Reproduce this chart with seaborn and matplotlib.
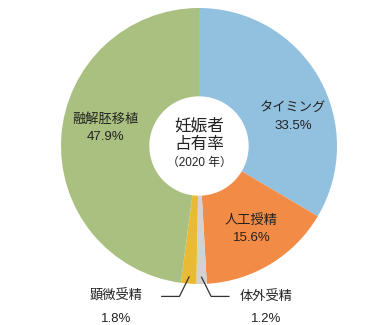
import matplotlib
matplotlib.use("Agg")
import matplotlib.pyplot as plt
import seaborn as sns
import numpy as np

categories = ["タイミング", "人工授精", "体外受精", "顕微受精", "融解胚移植"]
values = [33.5, 15.6, 1.2, 1.8, 47.9]
colors = ["#92C1DF", "#F28B45", "#D2D2D2", "#E9BB35", "#AAC080"]
center_title = "妊娠者\n占有率"
center_sub = "（2020 年）"

sns.set_theme(style="white")
plt.rcParams["font.family"] = ["Liberation Sans", "Noto Sans CJK JP", "DejaVu Sans"]

fig = plt.figure(figsize=(3.68, 3.25), dpi=100)
cx, cy, r = 199, 179, 138
ax = fig.add_axes([(cx - r) / 368, (cy - r) / 325, 2 * r / 368, 2 * r / 325])
ax.pie(values, colors=colors, startangle=90, counterclock=False,
       wedgeprops=dict(width=1 - 0.36, linewidth=0), radius=1.0)
ax.set_xlim(-1, 1)
ax.set_ylim(-1, 1)
ax.set_aspect("equal")
ax.axis("off")

fs = 9.5
def lab(i, x, y, ha="center"):
    ax.text(x, y, f"{categories[i]}\n{values[i]}%", ha=ha, va="center",
            fontsize=fs, linespacing=1.6, color="#222222")

lab(0, 0.68, 0.21)
lab(1, 0.38, -0.60)
lab(4, -0.68, 0.13)

ax.text(0, 0.08, center_title, ha="center", va="center", fontsize=12,
        linespacing=1.25, color="#222222")
ax.text(0, -0.125, center_sub, ha="center", va="center", fontsize=8.5, color="#222222")

# leader lines for small slices
cum = np.cumsum([0] + values[:-1])
for i, side, off in [(3, -1, 0.33), (2, 1, 0.27)]:
    mid = 90 - (cum[i] + values[i] / 2) * 3.6
    x0 = 0.95 * np.cos(np.radians(mid))
    y0 = 0.95 * np.sin(np.radians(mid))
    x1 = x0 + side * 0.07
    y1 = -1.09
    x2 = x1 + side * 0.13
    ax.plot([x0, x1, x2], [y0, y1, y1], color="#333333", lw=0.9, clip_on=False)
    ax.text(x2 + side * off, -1.09, categories[i], ha="center", va="center",
            fontsize=fs, color="#222222", clip_on=False)
    ax.text(x2 + side * off, -1.25, f"{values[i]}%", ha="center", va="center",
            fontsize=fs, color="#222222", clip_on=False)

fig.savefig("out.png", dpi=100, facecolor="white")
